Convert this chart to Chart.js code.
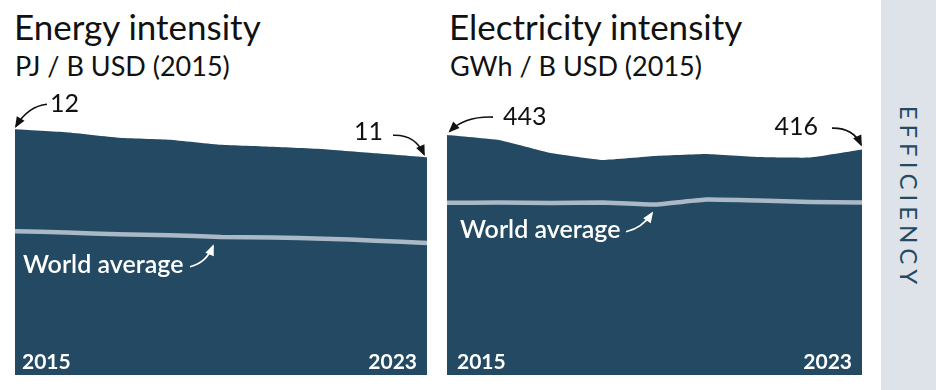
<!DOCTYPE html>
<html><head><meta charset="utf-8">
<script src="https://cdn.jsdelivr.net/npm/chart.js@4.4.1/dist/chart.umd.min.js"></script>
<style>
html,body{margin:0;padding:0;background:#fff;width:936px;height:390px;overflow:hidden;font-family:Lato,"Noto Sans",sans-serif}
.cv{position:absolute;top:0}
.t{position:absolute;white-space:nowrap;color:#111;line-height:1;margin:0}
.title{font-size:35px}
.sub{font-size:27px}
.side{position:absolute;left:881px;top:0;width:55px;height:390px;background:#dde3e8}
.side span{position:absolute;left:50%;top:50%;transform:translate(-50%,-50%) rotate(90deg);font-size:24px;font-weight:400;color:#234a62;letter-spacing:5px;padding-left:5px;white-space:nowrap;line-height:1}
</style></head><body>
<div class="t title" style="left:14px;top:9px">Energy intensity</div>
<div class="t sub" style="left:15px;top:52px">PJ / B USD (2015)</div>
<div class="t title" style="left:449px;top:9px">Electricity intensity</div>
<div class="t sub" style="left:450px;top:52px">GWh / B USD (2015)</div>
<canvas id="c1" class="cv" style="left:0" width="440" height="390"></canvas>
<canvas id="c2" class="cv" style="left:440px" width="441" height="390"></canvas>
<div class="side"><span>EFFICIENCY</span></div>
<script>
const years = ['2015','2016','2017','2018','2019','2020','2021','2022','2023'];
const energyIntensity = [12.20, 12.05, 11.78, 11.68, 11.43, 11.33, 11.21, 11.01, 10.81];
const energyWorld = [7.14, 7.07, 6.99, 6.94, 6.85, 6.82, 6.77, 6.67, 6.55];
const elecIntensity = [443, 433.8, 409.8, 396.9, 404.2, 407.9, 402.4, 401.4, 416.2];
const elecWorld = [318.0, 318.4, 317.5, 318.4, 314.7, 323.9, 322.1, 319.3, 318.4];
const worldLabel = 'World average';

function arrow(ctx, s, c, t, color) {
  ctx.save();
  ctx.strokeStyle = color; ctx.fillStyle = color; ctx.lineWidth = 1.6;
  ctx.beginPath(); ctx.moveTo(s[0], s[1]); ctx.quadraticCurveTo(c[0], c[1], t[0], t[1]); ctx.stroke();
  const a = Math.atan2(t[1]-c[1], t[0]-c[0]);
  const L = 9, W = 4.5;
  ctx.beginPath();
  ctx.moveTo(t[0]+Math.cos(a)*2, t[1]+Math.sin(a)*2);
  ctx.lineTo(t[0]-Math.cos(a)*L + Math.sin(a)*W, t[1]-Math.sin(a)*L - Math.cos(a)*W);
  ctx.lineTo(t[0]-Math.cos(a)*L - Math.sin(a)*W, t[1]-Math.sin(a)*L + Math.cos(a)*W);
  ctx.closePath(); ctx.fill();
  ctx.restore();
}

const annot = {
  id: 'annot',
  afterDatasetsDraw(chart, args, o) {
    const ctx = chart.ctx, xs = chart.scales.x, ys = chart.scales.y, ca = chart.chartArea;
    const d = chart.data.datasets[0].data, w = chart.data.datasets[1].data;
    const n = d.length - 1;
    const p0 = [xs.getPixelForValue(0), ys.getPixelForValue(d[0])];
    const p1 = [xs.getPixelForValue(n), ys.getPixelForValue(d[n])];
    const rel = (p, v) => [p[0]+v[0], p[1]+v[1]];
    ctx.save();
    ctx.fillStyle = '#111'; ctx.font = '400 25px Lato';
    ctx.textAlign = 'left'; ctx.textBaseline = 'alphabetic';
    ctx.fillText(String(Math.round(d[0])), p0[0]+o.first.text[0], p0[1]+o.first.text[1]);
    arrow(ctx, rel(p0,o.first.s), rel(p0,o.first.c), rel(p0,o.first.t), '#111');
    ctx.textAlign = 'right';
    ctx.fillText(String(Math.round(d[n])), p1[0]+o.last.text[0], p1[1]+o.last.text[1]);
    arrow(ctx, rel(p1,o.last.s), rel(p1,o.last.c), rel(p1,o.last.t), '#111');
    const w0 = [ca.left, ys.getPixelForValue(w[0])];
    ctx.fillStyle = '#fff'; ctx.font = '600 25px Lato'; ctx.textAlign = 'left';
    ctx.fillText(worldLabel, w0[0]+o.world.text[0], w0[1]+o.world.text[1]);
    arrow(ctx, rel(w0,o.world.s), rel(w0,o.world.c), rel(w0,o.world.t), '#fff');
    ctx.font = '700 21px Lato';
    ctx.textAlign = 'left';
    ctx.fillText(years[0], ca.left + o.yearL, ca.bottom - 6);
    ctx.textAlign = 'right';
    ctx.fillText(years[n], ca.right - 10, ca.bottom - 6);
    ctx.restore();
  }
};

function makeChart(id, vals, world, ymax, pad, ann) {
  return new Chart(document.getElementById(id), {
    type: 'line',
    data: { labels: years, datasets: [
      { data: vals, backgroundColor: '#234a62', borderColor: '#234a62', borderWidth: 0, pointRadius: 0,
        fill: 'origin', tension: 0.1, order: 1, clip: 0 },
      { data: world, borderColor: '#aab9c5', borderWidth: 4.5, pointRadius: 0, fill: false,
        tension: 0.1, order: 0, clip: 0 }
    ]},
    options: {
      responsive: false, animation: false, events: [],
      layout: { autoPadding: false, padding: pad },
      scales: { x: { display: false, offset: false }, y: { display: false, min: 0, max: ymax } },
      plugins: { legend: { display: false }, tooltip: { enabled: false }, annot: ann }
    },
    plugins: [annot]
  });
}

makeChart('c1', energyIntensity, energyWorld, 13.9, {left:15, right:13, top:95, bottom:15}, {
  first: { text: [35, -17], s: [32, -25], c: [13, -23], t: [1, -3] },
  last:  { text: [-44, -17], s: [-34, -22], c: [-12, -23], t: [-3, -3] },
  world: { text: [8, 42], s: [175, 35.5], c: [191, 32], t: [198, 15] },
  yearL: 7
});
makeChart('c2', elecIntensity, elecWorld, 517, {left:7, right:19, top:95, bottom:15}, {
  first: { text: [56, -10], s: [46, -18], c: [18, -19], t: [3, -4] },
  last:  { text: [-44, -14.5], s: [-30, -21.5], c: [-9, -22], t: [-1, -5] },
  world: { text: [13, 35.3], s: [179, 29], c: [195, 25.5], t: [205, 10.5] },
  yearL: 10
});
</script>
</body></html>
